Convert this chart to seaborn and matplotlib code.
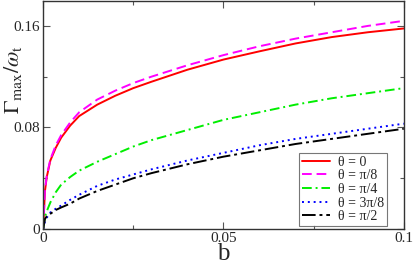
import numpy as np
import pandas as pd
import seaborn as sns
import matplotlib.pyplot as plt
from matplotlib.ticker import MultipleLocator

# values
b = [0, 0.0005, 0.001, 0.002, 0.0035, 0.005, 0.0075, 0.01, 0.015, 0.02,
     0.025, 0.03, 0.04, 0.05, 0.06, 0.07, 0.08, 0.09, 0.1]
g_0 = [0, 0.030, 0.041, 0.054, 0.064, 0.072, 0.0815, 0.089, 0.098, 0.105,
       0.111, 0.116, 0.1255, 0.1335, 0.140, 0.1462, 0.1512, 0.155, 0.158]
g_pi8 = [0, 0.031, 0.042, 0.055, 0.066, 0.074, 0.084, 0.092, 0.102, 0.109,
         0.115, 0.120, 0.129, 0.137, 0.144, 0.150, 0.155, 0.160, 0.164]
g_pi4 = [0, 0.010, 0.014, 0.021, 0.029, 0.035, 0.041, 0.046, 0.053, 0.059,
         0.065, 0.070, 0.078, 0.086, 0.092, 0.098, 0.103, 0.107, 0.111]
g_3pi8 = [0, 0.006, 0.009, 0.013, 0.016, 0.0185, 0.023, 0.027, 0.034, 0.039,
          0.043, 0.047, 0.054, 0.060, 0.066, 0.071, 0.075, 0.079, 0.083]
g_pi2 = [0, 0.008, 0.010, 0.012, 0.015, 0.017, 0.020, 0.024, 0.030, 0.035,
         0.040, 0.044, 0.051, 0.057, 0.062, 0.067, 0.071, 0.075, 0.079]

labels = ["θ = 0", "θ = π/8", "θ = π/4", "θ = 3π/8", "θ = π/2"]
series = [g_0, g_pi8, g_pi4, g_3pi8, g_pi2]
colors = ["#ff0000", "#ff00ff", "#00ee00", "#0000ff", "#000000"]
styles = ["-", (0, (5, 2.5)), (0, (5, 2, 1, 2)), (0, (1, 2)), (0, (7, 2, 1.5, 2))]

sns.set_style("ticks")
plt.rcParams['font.family'] = ['Liberation Serif', 'DejaVu Serif']
plt.rcParams['mathtext.fontset'] = 'stix'

fig = plt.figure(figsize=(4.15, 2.66), dpi=100)
ax = fig.add_axes([0.104, 0.139, 0.869, 0.859])

for lab, y, c, ls in zip(labels, series, colors, styles):
    sns.lineplot(x=b, y=y, ax=ax, color=c, linestyle=ls, linewidth=1.4, label=lab)

ax.set_xlim(0, 0.1)
ax.set_ylim(0, 0.18)
ax.set_xticks([0, 0.05, 0.1])
ax.set_xticklabels(["0", "0.05", "0.1"])
ax.set_yticks([0, 0.08, 0.16])
ax.set_yticklabels(["0", "0.08", "0.16"])
ax.xaxis.set_minor_locator(MultipleLocator(0.025))
ax.yaxis.set_minor_locator(MultipleLocator(0.04))
ax.tick_params(which='both', direction='in', top=True, right=True, labelsize=11,
               width=0.8, color='#555555', pad=2)
ax.tick_params(which='major', length=5)
ax.tick_params(which='minor', length=3)
for s in ax.spines.values():
    s.set_linewidth(1.0)
    s.set_color('#333333')

ax.set_xlabel("b", fontsize=18, labelpad=-1)
ax.set_ylabel(r"$\Gamma_{\rm max}/\omega_{\rm t}$", fontsize=16)
ax.yaxis.set_label_coords(-0.052, 0.655)

leg = ax.legend(loc='lower right', bbox_to_anchor=(0.953, 0.013), fontsize=10,
                frameon=True, fancybox=False, borderpad=0.2, labelspacing=0.05,
                handlelength=2.0, handletextpad=0.6, borderaxespad=0)
leg.get_frame().set_edgecolor('#555555')
leg.get_frame().set_linewidth(0.8)

fig.savefig("out.png", dpi=100)
